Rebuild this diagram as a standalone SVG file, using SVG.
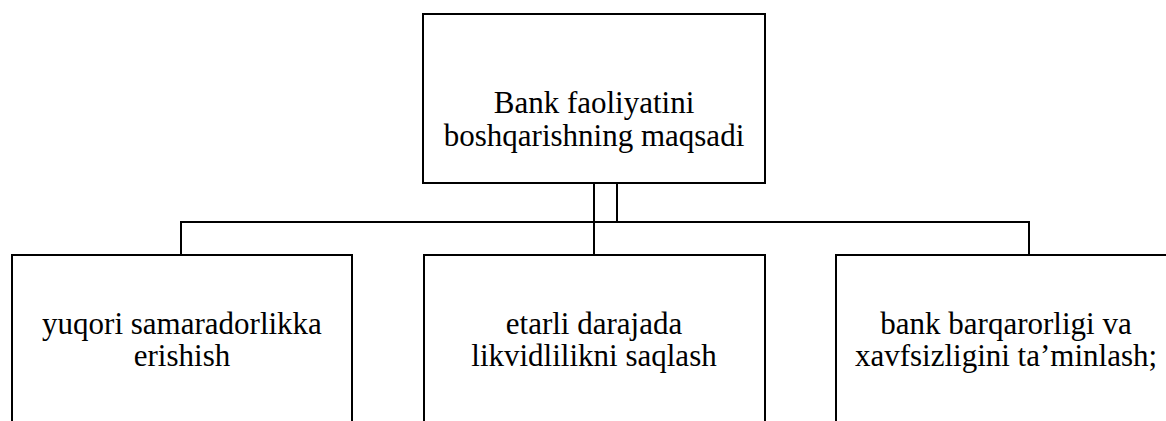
<svg xmlns="http://www.w3.org/2000/svg" width="1166" height="421" viewBox="0 0 1166 421">
<style>
.box{fill:#fff;stroke:#000;stroke-width:2}
.lbl{font-family:"Times New Roman","Liberation Serif",serif;font-size:31px;fill:#000;text-anchor:middle}
.con{fill:none;stroke:#000;stroke-width:2}
</style>
<rect width="1166" height="421" fill="#fff"/>
<g id="connectors">
<path class="con" d="M594,183 V255"/>
<path class="con" d="M617,183 V222"/>
<path class="con" d="M181,255 V222 H1029 V255"/>
</g>
<g id="root">
<rect class="box" x="423" y="14" width="342" height="169"/>
<text class="lbl" x="594" y="113">Bank faoliyatini</text>
<text class="lbl" x="594" y="146">boshqarishning maqsadi</text>
</g>
<g id="goal1">
<rect class="box" x="12" y="255" width="340" height="200"/>
<text class="lbl" x="182" y="334">yuqori samaradorlikka</text>
<text class="lbl" x="182" y="366">erishish</text>
</g>
<g id="goal2">
<rect class="box" x="424" y="255" width="341" height="200"/>
<text class="lbl" x="594" y="334">etarli darajada</text>
<text class="lbl" x="594" y="366">likvidlilikni saqlash</text>
</g>
<g id="goal3">
<rect class="box" x="836" y="255" width="340" height="200"/>
<text class="lbl" x="1006" y="334">bank barqarorligi va</text>
<text class="lbl" x="1006" y="366">xavfsizligini ta’minlash;</text>
</g>
</svg>
